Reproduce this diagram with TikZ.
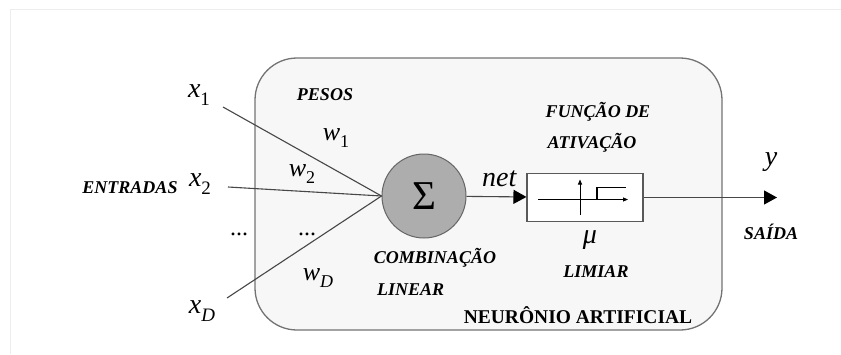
\documentclass[tikz,border=0pt]{standalone}
\usepackage{fontspec}
\setmainfont{Liberation Serif}
\usetikzlibrary{arrows.meta}

\newcommand{\vsub}[3][19]{\textit{#2}\raisebox{-0.28em}{\fontsize{#1}{#1}\selectfont #3}}

\begin{document}
\begin{tikzpicture}[x=1pt,y=-1pt,>={Triangle[length=13pt,width=14pt,black]},
                    conn/.style={draw=black!72,line width=1.1pt},
                    lbl/.style={font=\fontsize{18}{20}\selectfont\bfseries\itshape},
                    var/.style={font=\fontsize{28}{30}\selectfont,inner sep=0pt},
                    wvar/.style={font=\fontsize{26}{28}\selectfont,inner sep=0pt}]

  \useasboundingbox (0,0) rectangle (841,354);
  \draw[black!7] (10,354) -- (10,9) -- (841,9);

  % corpo do neuronio
  \node[draw=black!55,fill=black!3,line width=1.3pt,rounded corners=42pt,
        minimum width=467pt,minimum height=272pt] (neuron) at (488.5,194) {};

  \node[circle,draw=black!60,fill=black!32,line width=1pt,minimum size=84pt,inner sep=0pt] (sum) at (424,196)
       {\fontsize{41}{41}\selectfont Σ};
  \node[draw=black!65,fill=white,line width=1.1pt,minimum width=116pt,minimum height=48pt] (act) at (585,197.5) {};

  % entradas
  \node[var] (x1) at (199,95) {\vsub{x}{1}};
  \node[var] (x2) at (200,184) {\vsub{x}{2}};
  \node[var] (xD) at (202,311) {\vsub{x}{\textit{D}}};
  \node[lbl] (entradas) at (130,188) {ENTRADAS};
  \node[font=\fontsize{24}{24}\selectfont] (dots1) at (239,234) {...};

  \coordinate (in1) at (223,107);
  \coordinate (in2) at (228,187);
  \coordinate (inD) at (227,298);

  \path[conn]
    (in1) edge (sum.west)
    (in2) edge (sum.west)
    (inD) edge (sum.west);

  % pesos
  \node[lbl] (pesos) at (325,95) {PESOS};
  \node[wvar] (w1) at (336,138) {\vsub[18]{w}{1}};
  \node[wvar] (w2) at (302,174) {\vsub[18]{w}{2}};
  \node[font=\fontsize{24}{24}\selectfont] (dots2) at (307,234) {...};
  \node[wvar] (wD) at (318,278) {\vsub[18]{w}{\textit{D}}};

  \node[lbl] (comb) at (435,258) {COMBINAÇÃO};
  \node[lbl,anchor=west,inner sep=0pt] (linear) at (377,290) {LINEAR};

  % funcao de ativacao
  \draw[conn,->] (sum) -- node[var,above=9pt,pos=0.55] (net) {\textit{net}} (act);
  \node[lbl] (func) at (598,112) {FUNÇÃO DE};
  \node[lbl] (ativ) at (592,143) {ATIVAÇÃO};
  \begin{scope}[shift={(act.center)},line width=0.8pt,>={Triangle[length=5pt,width=4pt]}]
    \draw[->] (-47,2) -- (43,2);
    \draw[->] (-5,17) -- (-5,-18);
    \draw[line width=1.1pt] (-25,2) -- (12,2) -- (12,-10) -- (41,-10);
  \end{scope}
  \node[var] (mu) at (590,240) {\textit{μ}};
  \node[lbl] (limiar) at (596,272) {LIMIAR};

  \node[font=\fontsize{19.5}{21}\selectfont\bfseries] (title) at (578,315) {NEURÔNIO ARTIFICIAL};

  % saida
  \coordinate (out) at (777,197.5);
  \draw[conn,->] (act) -- (out);
  \node[var] (y) at (771,162) {\textit{y}};
  \node[lbl] (saida) at (771,232) {SAÍDA};
\end{tikzpicture}
\end{document}
